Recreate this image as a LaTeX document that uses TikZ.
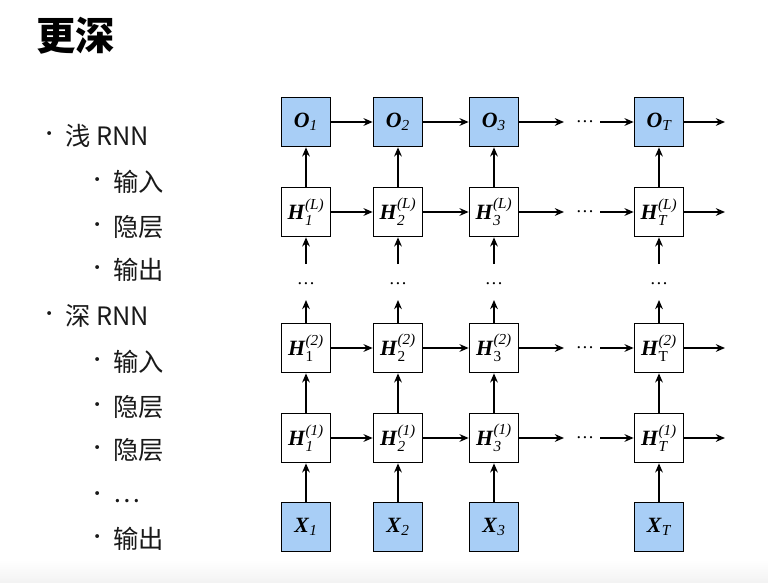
\documentclass[tikz,border=0pt]{standalone}
\usepackage{fontspec}
\usepackage{amsmath}
\usetikzlibrary{arrows.meta}
\setmainfont{Noto Sans CJK SC}
\newfontfamily\tms{Liberation Serif}
\definecolor{boxblue}{RGB}{168,206,246}
\newcommand{\bi}[1]{\textbf{\textit{#1}}}
\tikzset{
  cell/.style={draw, line width=1.2pt, minimum size=1.225cm, inner sep=0pt, fill=white,
    font=\tms\fontsize{15.5}{15.5}\selectfont},
  iobox/.style={cell, fill=boxblue},
  link/.style={-{Stealth[length=6.5pt,width=5.5pt]}, line width=1.2pt},
  gap/.style={inner sep=0pt, font=\tms\fontsize{13}{13}\selectfont},
  item/.style={anchor=west, inner sep=0pt, text=black!90, font=\fontsize{18}{18}\selectfont},
  mark dot/.style={inner sep=0pt, text=black!90, font=\fontsize{13}{13}\selectfont},
  heading/.style={anchor=west, inner sep=0pt, font=\bfseries\fontsize{28}{28}\selectfont}
}

\begin{document}
\begin{tikzpicture}[x=0.025cm, y=-0.025cm]
  \useasboundingbox (0,0) rectangle (768,583);
  \shade[top color=white, bottom color=black!5] (0,560) rectangle (768,583);
  \node[heading] (title) at (36,36) {更深};
  \foreach \n/\x/\y/\txt in {shallow/50/136/浅 RNN, sin/98/182/输入, shid/98/227/隐层, sout/98/270/输出,
      deep/50/316/深 RNN, din/98/362/输入, dhida/98/407/隐层, dhidb/98/450/隐层, dout/98/539/输出} {
    \node[mark dot] (\n dot) at (\x,\y) {•};
    \node[item] (\n) at (\x+15,\y) {\txt};
  }
  \node[mark dot] (dmore dot) at (98,496) {•};
  \node[item] (dmore) at (113,501) {…};
  \foreach \c/\x in {1/306, 2/398, 3/494, T/659} {
    \node[iobox] (o\c) at (\x,122) {$\bi{O}_{\textit{\c}}$};
    \node[cell] (hL\c) at (\x,212) {$\bi{H}^{\textit{(L)}}_{\textit{\c}}$};
    \coordinate (up\c) at (\x,264);
    \node[gap] (vdots\c) at (\x,284) {…};
    \coordinate (low\c) at (\x,300);
    \node[cell] (hb\c) at (\x,348) {$\bi{H}^{\textit{(2)}}_{\textup{\c}}$};
    \node[cell] (ha\c) at (\x,438) {$\bi{H}^{\textit{(1)}}_{\textit{\c}}$};
    \node[iobox] (x\c) at (\x,527) {$\bi{X}_{\textit{\c}}$};
    \draw[link] (x\c) -- (ha\c);
    \draw[link] (ha\c) -- (hb\c);
    \draw[link] (hb\c) -- (low\c);
    \draw[link] (up\c) -- (hL\c);
    \draw[link] (hL\c) -- (o\c);
  }
  \foreach \r/\y in {o/122, hL/212, hb/348, ha/438} {
    \draw[link] (\r1) -- (\r2);
    \draw[link] (\r2) -- (\r3);
    \coordinate (\r stop) at (564,\y);
    \node[gap] (\r dots) at (585,\y) {…};
    \coordinate (\r go) at (600,\y);
    \coordinate (\r out) at (725,\y);
    \draw[link] (\r3) -- (\r stop);
    \draw[link] (\r go) -- (\r T);
    \draw[link] (\r T) -- (\r out);
  }
\end{tikzpicture}
\end{document}
